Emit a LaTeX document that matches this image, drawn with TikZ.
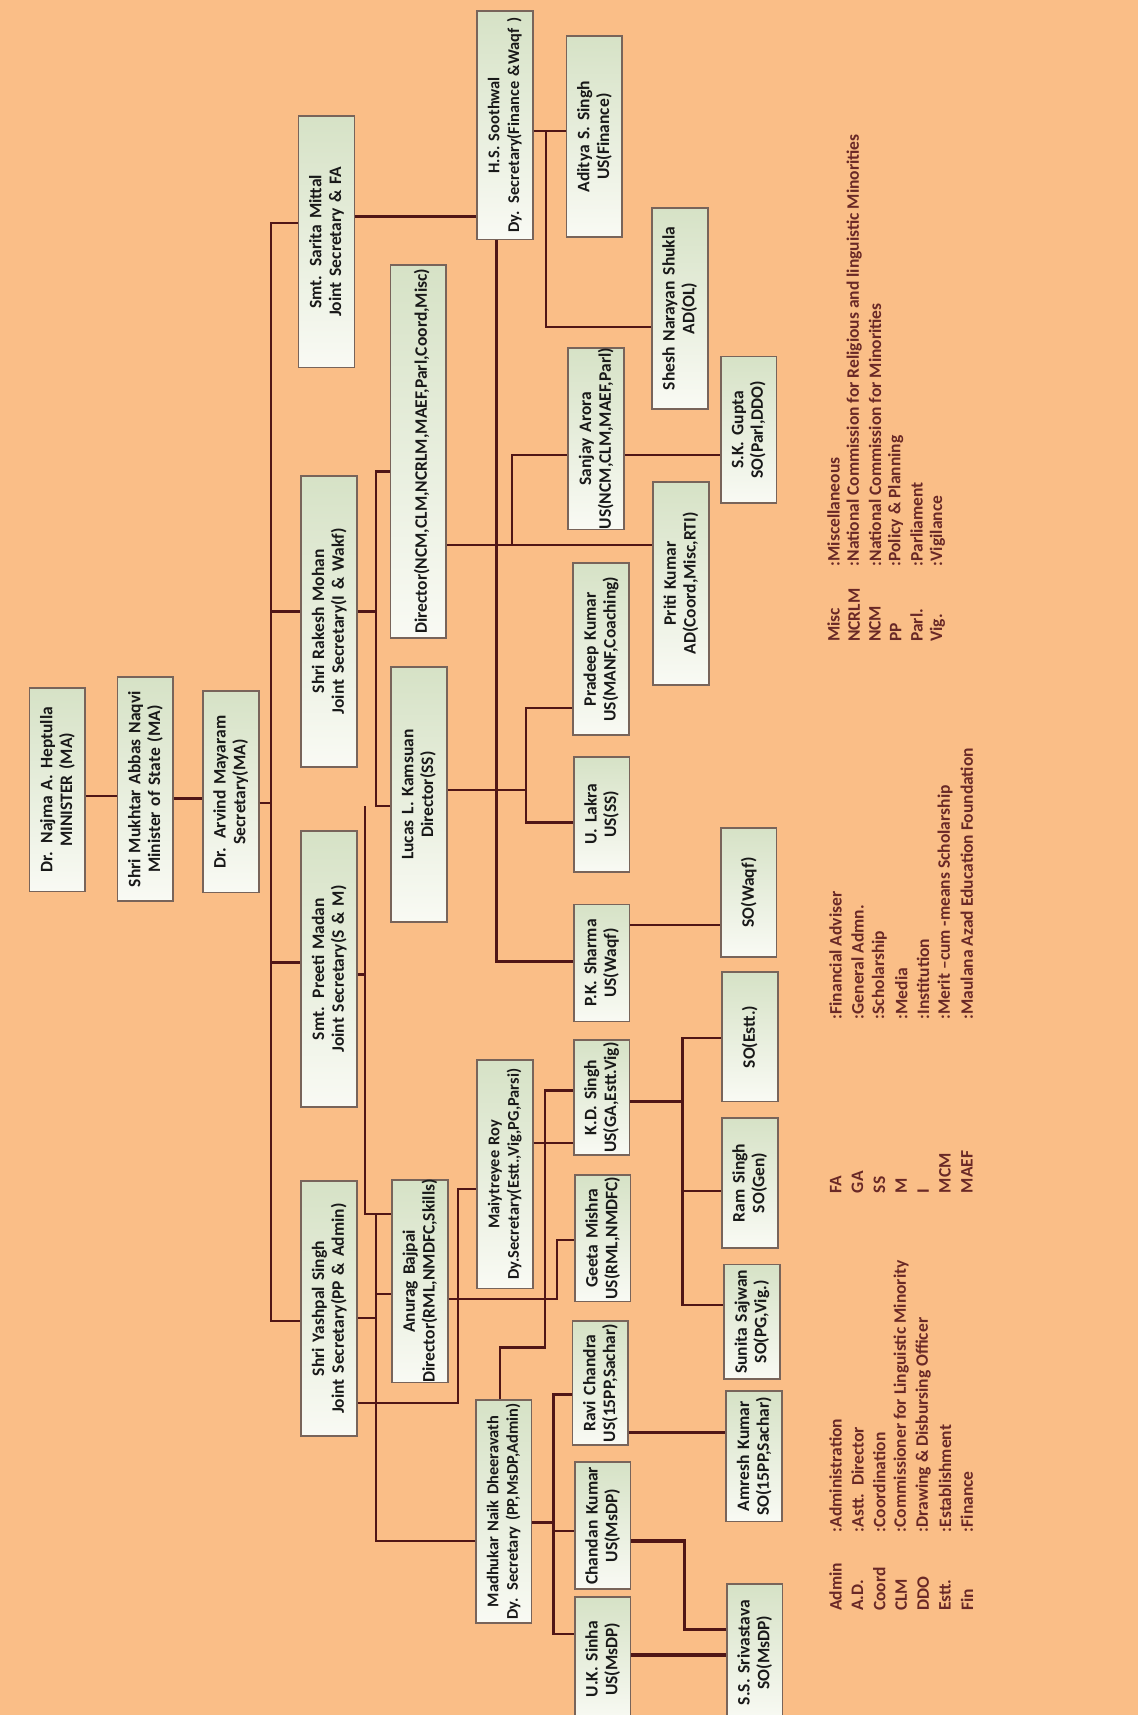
\documentclass[tikz,border=0pt]{standalone}
\usepackage{fontspec}
\setmainfont{Carlito}
\usepackage{tikz}

\definecolor{peach}{RGB}{250,190,135}
\definecolor{boxgreen}{RGB}{214,226,198}
\definecolor{boxwhite}{RGB}{249,250,244}
\definecolor{boxedge}{RGB}{120,100,90}
\definecolor{wire}{RGB}{80,22,22}
\definecolor{legendink}{RGB}{105,40,38}

\begin{document}
\begin{tikzpicture}[x=1pt, y=-1pt,
  post/.style={draw=boxedge, line width=1.6pt, rotate=90, top color=boxgreen, bottom color=boxwhite,
    text=black!90, font=\bfseries\fontsize{16}{18}\selectfont, align=center,
    inner xsep=0pt, inner ysep=0pt, minimum height=51pt, text width=#1},
  longpost/.style={font=\bfseries\fontsize{15}{18}\selectfont},
  link/.style={draw=wire, line width=2pt},
  heavy/.style={draw=wire, line width=3pt},
  legend/.style={rotate=90, anchor=west, inner sep=0pt, text=legendink,
    font=\bfseries\fontsize{16}{18}\selectfont}]

  \useasboundingbox (0,0) rectangle (1040,1568);
  \fill[peach] (0,0) rectangle (1040,1568);

  % Ministers and secretary
  \node[post=186pt] (najma) at (52.5,722) {Dr. Najma A. Heptulla\\MINISTER (MA)};
  \node[post=205pt] (mukhtar) at (133,721.5) {Shri Mukhtar Abbas Naqvi\\Minister of State (MA)};
  \node[post=184pt] (arvind) at (211,724) {Dr. Arvind Mayaram\\Secretary(MA)};

  % Joint secretaries
  \node[post=230pt] (sarita) at (298.5,221) {Smt. Sarita Mittal\\Joint Secretary \& FA};
  \node[post=266pt] (rakesh) at (301,568) {Shri Rakesh Mohan\\Joint Secretary(I \& Wakf)};
  \node[post=252pt] (preeti) at (301,886) {Smt. Preeti Madan\\Joint Secretary(S \& M)};
  \node[post=233pt] (yashpal) at (301,1196.5) {Shri Yashpal Singh\\Joint Secretary(PP \& Admin)};

  % Directors and deputy secretaries
  \node[post=341pt] (director) at (382.5,412.5) {\mbox{}\\Director(NCM,CLM,NCRLM,MAEF,Parl,Coord,Misc)};
  \node[post=233pt] (lucas) at (383,726.5) {Lucas L. Kamsuan\\Director(SS)};
  \node[post=185pt] (anurag) at (384,1171.5) {Anurag Bajpai\\Director(RML,NMDFC,Skills)};
  \node[post=209pt, longpost] (soothwal) at (461.5,114.5) {H.S. Soothwal\\Dy. Secretary(Finance \&Waqf )};
  \node[post=209pt, longpost] (maiy) at (461.5,1073.5) {Maiytreyee Roy\\Dy.Secretary(Estt.,Vig,PG,Parsi)};
  \node[post=204pt, longpost] (madhukar) at (460.5,1382) {Madhukar Naik Dheeravath\\Dy. Secretary (PP,MsDP,Admin)};

  % Under secretaries, assistant directors
  \node[post=184pt] (aditya) at (543.5,125) {Aditya S. Singh\\US(Finance)};
  \node[post=184pt] (shesh) at (621.5,282) {Shesh Narayan Shukla\\AD(OL)};
  \node[post=166pt] (sanjay) at (545,401) {Sanjay Arora\\US(NCM,CLM,MAEF,Parl)};
  \node[post=185pt] (priti) at (622.5,533.5) {Priti Kumar\\AD(Coord,Misc,RTI)};
  \node[post=157pt] (pradeep) at (549.5,593.5) {Pradeep Kumar\\US(MANF,Coaching)};
  \node[post=105pt] (lakra) at (550,744.5) {U. Lakra\\US(SS)};
  \node[post=107pt] (pksharma) at (550,880.5) {P.K. Sharma\\US(Waqf)};
  \node[post=105pt] (kdsingh) at (550,1003.5) {K.D. Singh\\US(GA,Estt.Vig)};
  \node[post=116pt] (geeta) at (551,1132) {Geeta Mishra\\US(RML,NMDFC)};
  \node[post=113pt] (ravi) at (549,1264.5) {Ravi Chandra\\US(15PP,Sachar)};
  \node[post=116pt] (chandan) at (551,1395) {Chandan Kumar\\US(MsDP)};
  \node[post=114pt] (uksinha) at (551,1517) {U.K. Sinha\\US(MsDP)};

  % Section officers
  \node[post=134pt] (skgupta) at (684.5,393) {S.K. Gupta\\SO(Parl,DDO)};
  \node[post=118pt] (sowaqf) at (684.5,816) {SO(Waqf)};
  \node[post=118pt] (soestt) at (685.5,948) {SO(Estt.)};
  \node[post=119pt] (ramsingh) at (685.5,1081.5) {Ram Singh\\SO(Gen)};
  \node[post=105pt] (sunita) at (687.5,1208.5) {Sunita Sajwan\\SO(PG,Vig.)};
  \node[post=119pt] (amresh) at (689.5,1331.5) {Amresh Kumar\\SO(15PP,Sachar)};
  \node[post=125pt] (ssriv) at (690,1511) {S.S. Srivastava\\SO(MsDP)};

  % Minister line
  \draw[link] (najma.south |- 0,728) -- (mukhtar.north |- 0,728);
  \draw[link] (mukhtar.south |- 0,730) -- (arvind.north |- 0,730);

  % Secretary to joint secretaries
  \coordinate (jsbus) at (248,734);
  \draw[link] (arvind.south |- jsbus) -- (jsbus);
  \draw[link] (sarita.north |- 0,204) -| (248,1208) -- (yashpal.north |- 0,1208);
  \draw[link] (248,559) -- (rakesh.north |- 0,559);
  \draw[link] (248,880) -- (preeti.north |- 0,880);

  % Finance & Waqf
  \draw[link] (sarita.south |- 0,198) -- (soothwal.north |- 0,198);
  \draw[link] (soothwal.south |- 0,120) -- (aditya.north |- 0,120);
  \draw[link] (499,120) |- (shesh.north |- 0,299);
  \draw[link] (454,0 |- soothwal.west) |- (pksharma.north |- 0,879);
  \draw[link] (pksharma.south |- 0,846) -- (sowaqf.north |- 0,846);

  % I & Wakf
  \draw[link] (rakesh.south |- 0,559) -- (344,559);
  \draw[link] (director.north |- 0,431) -| (344,737) -- (lucas.north |- 0,737);
  \draw[link] (director.south |- 0,498) -- (priti.north |- 0,498);
  \draw[link] (468,498) |- (sanjay.north |- 0,416);
  \draw[link] (sanjay.south |- 0,416) -- (skgupta.north |- 0,416);
  \draw[link] (lucas.south |- 0,722) -- (481,722);
  \draw[link] (pradeep.north |- 0,647) -| (481,752) -- (lakra.north |- 0,752);

  % S & M
  \draw[link] (preeti.south |- 0,891) -- (334,891);
  \draw[link] (334,737) |- (anurag.north |- 0,1110);
  \draw[link] (anurag.south |- 0,1188) -| (509,1134) -- (geeta.north |- 0,1134);

  % PP & Admin
  \draw[link] (yashpal.south |- 0,1205) -- (344,1205);
  \draw[link] (344,1110) |- (madhukar.north |- 0,1409);
  \draw[link] (344,1183) -- (anurag.north |- 0,1183);
  \draw[link] (yashpal.south |- 0,1283) -| (419,1087) -- (maiy.north |- 0,1087);
  \draw[link] (maiy.south |- 0,1045) -- (kdsingh.north |- 0,1045);
  \draw[link] (457,0 |- madhukar.east) |- (498,1232) |- (kdsingh.north |- 0,997);
  \draw[link] (kdsingh.south |- 0,1007) -- (624,1007);
  \draw[link] (soestt.north |- 0,949) -| (624,1193) -- (sunita.north |- 0,1193);
  \draw[link] (624,1089) -- (ramsingh.north |- 0,1089);
  \draw[link] (madhukar.south |- 0,1392) -- (506,1392);
  \draw[link] (ravi.north |- 0,1275) -| (506,1494) -- (uksinha.north |- 0,1494);
  \draw[link] (506,1400) -- (chandan.north |- 0,1400);
  \draw[heavy] (ravi.south |- 0,1310) -- (amresh.north |- 0,1310);
  \draw[heavy] (chandan.south |- 0,1409) -| (626,1490) -- (ssriv.north |- 0,1490);
  \draw[heavy] (uksinha.south |- 0,1513) -- (ssriv.north |- 0,1513);

  % Abbreviations
  \foreach \ab/\full [count=\i from 0] in {Admin/:Administration, A.D./:Astt.\ \ Director,
      Coord/:Coordination, CLM/:Commissioner for Linguistic Minority,
      DDO/:Drawing \& Disbursing Officer, Estt./:Establishment, Fin/:Finance}
  {
    \node[legend] (abA\i) at ({764+20*\i},1473) {\ab};
    \node[legend] (mnA\i) at ({764+20*\i},1401) {\full};
  }
  \foreach \ab/\full [count=\i from 0] in {FA/:Financial Adviser, GA/:General Admn.,
      SS/:Scholarship, M/:Media, I/:Institution, MCM/:Merit --cum -means Scholarship,
      MAEF/:Maulana Azad Education Foundation}
  {
    \node[legend] (abB\i) at ({764+20*\i},1091) {\ab};
    \node[legend] (mnB\i) at ({764+20*\i},932) {\full};
  }
  \foreach \ab/\full [count=\i from 0] in {Misc/:Miscellaneous,
      NCRLM/:National Commission for Religious and linguistic Minorities,
      NCM/:National Commission for Minorities, PP/:Policy \& Planning,
      Parl./:Parliament, Vig./:Vigilance}
  {
    \node[legend] (abC\i) at ({762+19*\i},587) {\ab};
    \node[legend] (mnC\i) at ({762+19*\i},518) {\full};
  }

\end{tikzpicture}
\end{document}
